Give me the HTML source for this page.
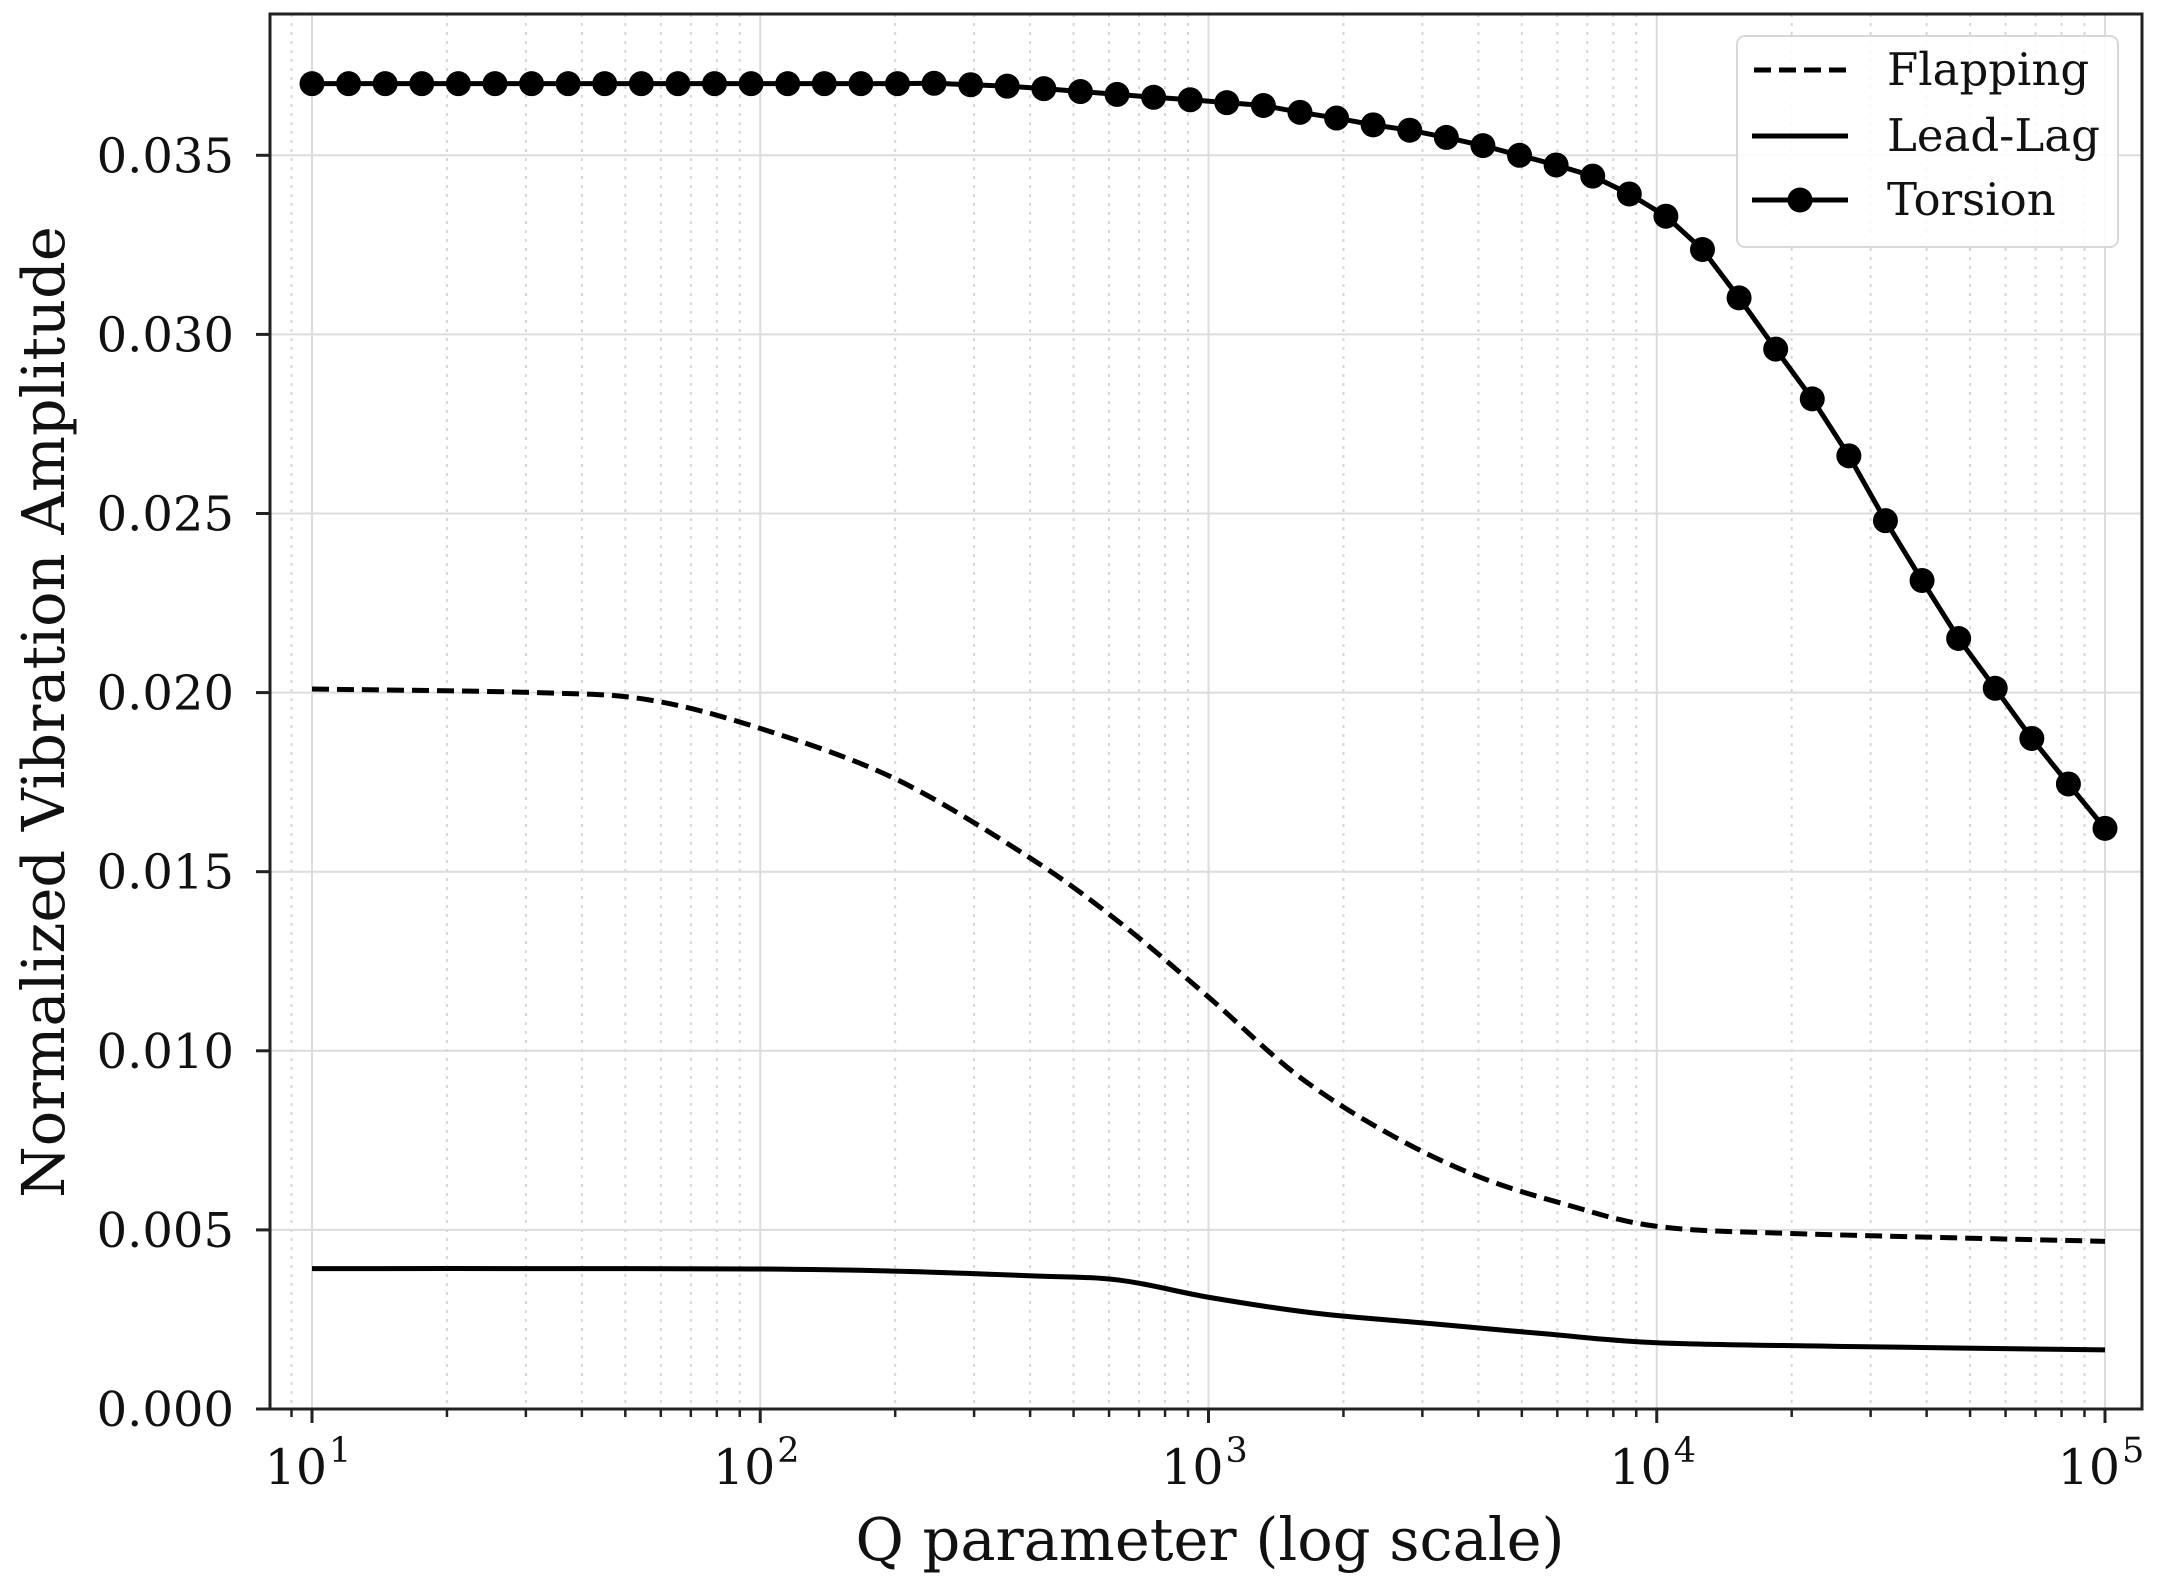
<!DOCTYPE html>
<html><head><meta charset="utf-8"><style>
html,body{margin:0;padding:0;background:#fff;}
svg{display:block;font-family:"DejaVu Serif","Liberation Serif",serif;}
</style></head><body>
<svg id="chart" width="2170" height="1593" viewBox="0 0 2170 1593" xmlns="http://www.w3.org/2000/svg">
<g id="grid"></g>
<g id="series"></g>
<g id="axes"></g>
<text x="1210" y="1560" font-size="59" text-anchor="middle" fill="#111">Q parameter (log scale)</text>
<text x="0" y="0" font-size="59" text-anchor="middle" fill="#111" transform="translate(64,712) rotate(-90)">Normalized Vibration Amplitude</text>
<g>
<rect x="1737" y="36" width="381" height="211" rx="8" fill="#fff" fill-opacity="0.85" stroke="#d8d8d8" stroke-width="2"/>
<line x1="1754" y1="70" x2="1846" y2="70" stroke="#000" stroke-width="5" stroke-dasharray="17,8"/>
<text x="1887" y="85" font-size="45" fill="#111">Flapping</text>
<line x1="1752" y1="136" x2="1848" y2="136" stroke="#000" stroke-width="5"/>
<text x="1887" y="151" font-size="45" fill="#111">Lead-Lag</text>
<line x1="1752" y1="200" x2="1848" y2="200" stroke="#000" stroke-width="5"/>
<circle cx="1800" cy="200" r="12.5" fill="#000"/>
<text x="1887" y="215" font-size="45" fill="#111">Torsion</text>
</g>
</svg>
<script>
// data
const torsionValues = [0.0370,0.0370,0.0370,0.0370,0.0370,0.0370,0.0370,0.0370,0.0370,0.0370,0.0370,0.0370,0.0370,0.0370,0.0370,0.0370,0.0370,
0.03701,0.03697,0.03693,0.03686,0.03678,0.0367,0.03662,0.03655,0.03647,0.03639,0.0362,0.03604,0.03585,0.0357,0.0355,0.03527,0.035,0.03473,0.03442,0.03392,0.0333,0.03237,0.03102,0.02959,0.0282,0.02661,0.0248,0.02313,0.02151,0.02012,0.01872,0.01745,0.01621];
const torsionLogQStart = 1;
const torsionLogQEnd = 5;
const flapLogQ = [1,1.5,1.75,2.0,2.3,2.6,2.8,3.0,3.2,3.4,3.6,3.8,4.0,4.3,5];
const flapValues = [0.0201,0.0200,0.0198,0.0190,0.0176,0.0154,0.0136,0.0115,0.0093,0.0077,0.0065,0.0057,0.0051,0.0049,0.00468];
const leadLogQ = [1,1.5,1.983,2.3,2.6,2.8,3.0,3.235,3.5,3.75,4.0,4.4,5];
const leadValues = [0.00392,0.00392,0.00391,0.00385,0.00372,0.0036,0.00312,0.00268,0.00238,0.0021,0.00185,0.00175,0.00165];
const yTicks = [0,0.005,0.010,0.015,0.020,0.025,0.030,0.035];
const yTickLabels = ["0.000","0.005","0.010","0.015","0.020","0.025","0.030","0.035"];
const xDecades = [1,2,3,4,5];

const NS="http://www.w3.org/2000/svg";
const X0=270,X1=2142,Y0=1409,Y1=14;
function xs(lq){return 312+(lq-1)*448.25;}
function ys(v){return 1409-v*35820;}
function mk(tag,attrs,parent){const e=document.createElementNS(NS,tag);for(const k in attrs)e.setAttribute(k,attrs[k]);parent.appendChild(e);return e;}
const grid=document.getElementById('grid'),axes=document.getElementById('axes'),series=document.getElementById('series');

for(let d=0;d<=4;d++){
  for(let m=2;m<=9;m++){
    const lq=d+Math.log10(m);
    const x=xs(lq);
    if(x<X0||x>X1)continue;
    const g=mk('line',{x1:x,y1:Y1,x2:x,y2:Y0,stroke:'#d6d6d6','stroke-width':2,'stroke-dasharray':'3,6'},grid);
    
    
    const t=mk('line',{x1:x,y1:Y0,x2:x,y2:Y0+8,stroke:'#222','stroke-width':2.5},axes);
    
    
  }
}
xDecades.forEach(function(dec){
  const x=xs(dec);
  const g=mk('line',{x1:x,y1:Y1,x2:x,y2:Y0,stroke:'#dcdcdc','stroke-width':2},grid);
  
  
  const t=mk('line',{x1:x,y1:Y0,x2:x,y2:Y0+14,stroke:'#222','stroke-width':3},axes);
  
  
  const tx=mk('text',{x:x-4,y:1484,'font-size':49,'text-anchor':'middle',fill:'#111'},axes);
  
  
  tx.textContent='10';
  const sp=mk('tspan',{dx:2,dy:-22,'font-size':35},tx);
  sp.textContent=String(dec);
});
yTicks.forEach(function(v,i){
  const y=ys(v);
  const g=mk('line',{x1:X0,y1:y,x2:X1,y2:y,stroke:'#dcdcdc','stroke-width':2},grid);
  
  
  const t=mk('line',{x1:X0-14,y1:y,x2:X0,y2:y,stroke:'#222','stroke-width':3},axes);
  
  
  const tx=mk('text',{x:234,y:y+17,'font-size':48,'text-anchor':'end',fill:'#111'},axes);
  
  
  tx.textContent=yTickLabels[i];
});
const frame=mk('rect',{x:X0,y:Y1,width:X1-X0,height:Y0-Y1,fill:'none',stroke:'#222','stroke-width':3},axes);



function smoothPath(px,py){
  let d='M'+px[0]+','+py[0];
  for(let i=0;i<px.length-1;i++){
    const p0x=px[Math.max(i-1,0)],p0y=py[Math.max(i-1,0)];
    const p3x=px[Math.min(i+2,px.length-1)],p3y=py[Math.min(i+2,px.length-1)];
    const c1x=px[i]+(px[i+1]-p0x)/6,c1y=py[i]+(py[i+1]-p0y)/6;
    const c2x=px[i+1]-(p3x-px[i])/6,c2y=py[i+1]-(p3y-py[i])/6;
    d+=' C'+c1x+','+c1y+' '+c2x+','+c2y+' '+px[i+1]+','+py[i+1];
  }
  return d;
}
const fp=mk('path',{d:smoothPath(flapLogQ.map(xs),flapValues.map(ys)),fill:'none',stroke:'#000','stroke-width':5,'stroke-dasharray':'17,8'},series);


const lp=mk('path',{d:smoothPath(leadLogQ.map(xs),leadValues.map(ys)),fill:'none',stroke:'#000','stroke-width':5},series);



const n=torsionValues.length;
const tx=torsionValues.map(function(v,i){return xs(torsionLogQStart+(torsionLogQEnd-torsionLogQStart)*i/(n-1));});
const ty=torsionValues.map(ys);
const tp=mk('polyline',{points:tx.map(function(x,i){return x+','+ty[i];}).join(' '),fill:'none',stroke:'#000','stroke-width':5},series);


torsionValues.forEach(function(v,i){
  const c=mk('circle',{cx:tx[i],cy:ty[i],r:12.5,fill:'#000'},series);
  
  
});
</script>
</body></html>
